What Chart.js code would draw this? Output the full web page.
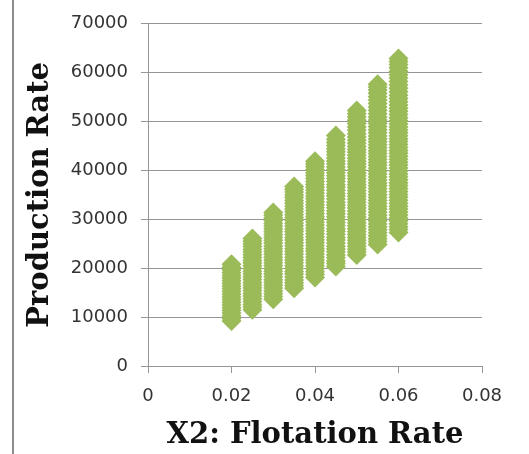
<!DOCTYPE html>
<html>
<head>
<meta charset="utf-8">
<title>Production Rate vs Flotation Rate</title>
<script src="https://cdn.jsdelivr.net/npm/chart.js@4.4.1/dist/chart.umd.min.js"></script>
<style>
  html, body { margin: 0; padding: 0; background: #ffffff; }
  #wrap { position: relative; width: 529px; height: 454px; }
</style>
</head>
<body>
<div id="wrap"><canvas id="chart" width="529" height="454"></canvas></div>
<script>
// Flotation rates (X2) tested
const flotationRates = [0.02, 0.025, 0.03, 0.035, 0.04, 0.045, 0.05, 0.055, 0.06];

// Production rates observed at each flotation rate
const prodAt020 = [9200, 9700, 10300, 10850, 11400, 11900, 12500, 13050, 13600, 14100, 14700,
  15250, 15800, 16300, 16900, 17450, 18000, 18500, 19100, 19650, 20200, 20800];
const prodAt025 = [11500, 12050, 12600, 13200, 13750, 14300, 14850, 15450, 16000, 16550, 17100,
  17700, 18250, 18800, 19350, 19950, 20500, 21050, 21600, 22200, 22750, 23300, 23850, 24450,
  25000, 25550, 26100];
const prodAt030 = [13650, 14200, 14800, 15350, 15950, 16500, 17100, 17650, 18250, 18800, 19400,
  19950, 20550, 21100, 21700, 22250, 22850, 23400, 24000, 24550, 25150, 25700, 26300, 26850,
  27450, 28000, 28600, 29150, 29750, 30300, 30850, 31400];
const prodAt035 = [15900, 16450, 17050, 17600, 18200, 18800, 19350, 19950, 20500, 21100, 21700,
  22250, 22850, 23400, 24000, 24600, 25150, 25750, 26300, 26900, 27500, 28050, 28650, 29200,
  29800, 30400, 30950, 31550, 32100, 32700, 33300, 33850, 34450, 35000, 35600, 36150, 36700];
const prodAt040 = [18100, 18700, 19300, 19900, 20500, 21100, 21700, 22300, 22900, 23500, 24050,
  24650, 25250, 25850, 26450, 27050, 27650, 28250, 28850, 29450, 30050, 30600, 31200, 31800,
  32400, 33000, 33600, 34200, 34800, 35400, 36000, 36550, 37150, 37750, 38350, 38950, 39550,
  40150, 40750, 41300, 41900];
const prodAt045 = [20350, 20950, 21500, 22150, 22700, 23350, 23950, 24500, 25150, 25750, 26300,
  26950, 27550, 28100, 28750, 29350, 29900, 30550, 31150, 31700, 32350, 32950, 33500, 34150,
  34750, 35300, 35950, 36550, 37100, 37750, 38350, 38900, 39550, 40150, 40700, 41350, 41950,
  42550, 43200, 43850, 44450, 45100, 45700, 46400, 47150];
const prodAt050 = [22700, 23300, 23900, 24500, 25100, 25700, 26300, 26900, 27500, 28100, 28700,
  29300, 29900, 30500, 31100, 31700, 32300, 32900, 33500, 34100, 34700, 35300, 35900, 36500,
  37100, 37700, 38300, 38900, 39500, 40100, 40700, 41300, 41900, 42500, 43100, 43700, 44300,
  44900, 45550, 46200, 46850, 47500, 48200, 48900, 49600, 50250, 50950, 51600, 52250];
const prodAt055 = [24850, 25450, 26050, 26650, 27250, 27850, 28450, 29050, 29650, 30250, 30850,
  31450, 32050, 32650, 33250, 33850, 34450, 35050, 35650, 36250, 36850, 37450, 38050, 38650,
  39250, 39850, 40450, 41050, 41650, 42250, 42850, 43450, 44050, 44650, 45250, 45850, 46450,
  47050, 47700, 48350, 49000, 49650, 50300, 50950, 51600, 52300, 53000, 53700, 54400, 55100,
  55800, 56450, 57050, 57650];
const prodAt060 = [27300, 27900, 28500, 29100, 29700, 30300, 30900, 31500, 32100, 32700, 33300,
  33900, 34500, 35100, 35700, 36300, 36900, 37500, 38100, 38700, 39300, 39900, 40500, 41100,
  41700, 42300, 42900, 43500, 44100, 44700, 45300, 45900, 46500, 47100, 47700, 48300, 48900,
  49500, 50150, 50800, 51450, 52100, 52750, 53400, 54050, 54700, 55400, 56100, 56800, 57500,
  58200, 58900, 59600, 60300, 61000, 61650, 62300, 62900];

const productionSeries = [prodAt020, prodAt025, prodAt030, prodAt035, prodAt040,
  prodAt045, prodAt050, prodAt055, prodAt060];

// Axis ticks
const xTicks = [0, 0.02, 0.04, 0.06, 0.08];
const yTicks = [0, 10000, 20000, 30000, 40000, 50000, 60000, 70000];

const xTitle = 'X2: Flotation Rate';
const yTitle = 'Production Rate';

// Build (x, y) points: each flotation rate paired with its production values
const points = [];
flotationRates.forEach((rate, i) => {
  productionSeries[i].forEach(v => points.push({ x: rate, y: v }));
});

// Thin gray rule along the left edge of the page
const leftRule = {
  id: 'leftRule',
  beforeDraw(chart) {
    const ctx = chart.ctx;
    ctx.save();
    ctx.strokeStyle = '#8c8c8c';
    ctx.lineWidth = 2;
    ctx.beginPath();
    ctx.moveTo(13, 0);
    ctx.lineTo(13, chart.height);
    ctx.stroke();
    ctx.restore();
  }
};

const gridColor = '#959595';
const tickFont = { family: 'DejaVu Sans', size: 18 };
const titleFont = { family: 'DejaVu Serif', size: 29, weight: 'bold' };

new Chart(document.getElementById('chart'), {
  type: 'scatter',
  data: {
    datasets: [{
      label: 'Production Rate',
      data: points,
      pointStyle: 'rectRot',
      pointRadius: 10,
      pointBorderWidth: 0,
      backgroundColor: '#9bbb59',
      borderColor: '#9bbb59'
    }]
  },
  options: {
    responsive: false,
    animation: false,
    events: [],
    layout: { padding: { top: 21, right: 47, left: 0, bottom: 0 } },
    plugins: { legend: { display: false }, tooltip: { enabled: false } },
    scales: {
      x: {
        type: 'linear',
        min: 0, max: 0.08,
        afterBuildTicks(scale) { scale.ticks = xTicks.map(v => ({ value: v })); },
        afterFit(scale) { scale.height = 88; },
        grid: { drawOnChartArea: false, drawTicks: true, tickLength: 7, color: gridColor },
        border: { color: gridColor, width: 1 },
        ticks: {
          font: tickFont, color: '#333333', padding: 13, maxRotation: 0,
          callback: v => String(v)
        },
        title: { display: true, text: xTitle, font: titleFont, color: '#111111', padding: { top: 2, bottom: 1 } }
      },
      y: {
        type: 'linear',
        min: 0, max: 70000,
        afterBuildTicks(scale) { scale.ticks = yTicks.map(v => ({ value: v })); },
        afterFit(scale) { scale.width = 148; },
        grid: { drawTicks: true, tickLength: 7, color: gridColor },
        border: { color: gridColor, width: 1 },
        ticks: {
          font: tickFont, color: '#333333', padding: 13,
          callback: v => String(v)
        },
        title: { display: true, text: yTitle, font: titleFont, color: '#111111', padding: { top: 23, bottom: 0 } }
      }
    }
  },
  plugins: [leftRule]
});
</script>
</body>
</html>
